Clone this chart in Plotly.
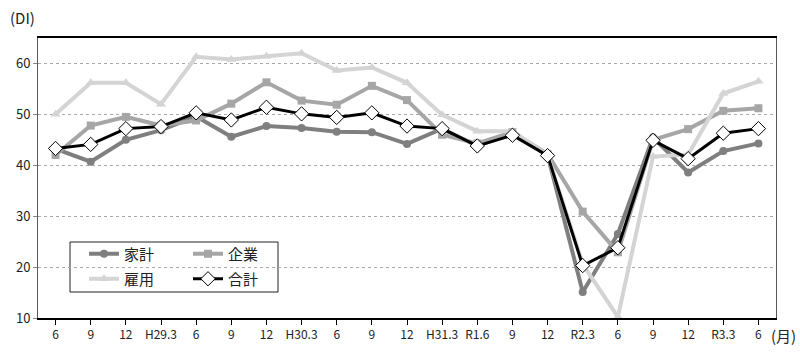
import plotly.graph_objects as go

categories = ["6", "9", "12", "H29.3", "6", "9", "12", "H30.3", "6", "9", "12",
              "H31.3", "R1.6", "9", "12", "R2.3", "6", "9", "12", "R3.3", "6"]
kakei = [43.2, 40.7, 45.0, 46.9, 49.6, 45.6, 47.7, 47.3, 46.6, 46.5, 44.2,
         47.2, 43.8, 46.3, 42.0, 15.1, 26.5, 45.5, 38.6, 42.8, 44.3]
kigyo = [42.0, 47.8, 49.5, 47.8, 48.8, 52.1, 56.3, 52.7, 51.9, 55.6, 52.8,
         46.0, 44.3, 46.5, 42.2, 30.9, 22.9, 45.0, 47.1, 50.7, 51.2]
koyo = [50.0, 56.2, 56.2, 52.0, 61.3, 60.8, 61.4, 62.0, 58.6, 59.2, 56.2,
        49.9, 46.7, 46.7, 42.0, 20.6, 10.2, 41.7, 42.1, 54.1, 56.5]
gokei = [43.3, 44.1, 47.2, 47.6, 50.3, 48.9, 51.4, 50.1, 49.4, 50.3, 47.7,
         47.2, 43.8, 45.9, 41.9, 20.3, 23.8, 44.9, 41.3, 46.3, 47.2]
names = ["家計", "企業", "雇用", "合計"]

x = list(range(len(categories)))
FONT = "Noto Sans CJK JP"

fig = go.Figure()
specs = [
    (kakei, names[0], "#7f7f7f", dict(symbol="circle", size=8, color="#7f7f7f"), 4, "legend"),
    (kigyo, names[1], "#a6a6a6", dict(symbol="square", size=8, color="#a6a6a6"), 4, "legend2"),
    (koyo, names[2], "#d4d4d4", dict(symbol="triangle-up", size=9, color="#d4d4d4"), 4, "legend3"),
    (gokei, names[3], "#000000", dict(symbol="diamond", size=11, color="white",
                                      line=dict(color="#000000", width=1)), 3, "legend4"),
]
for vals, nm, col, mk, w, lg in specs:
    fig.add_trace(go.Scatter(x=x, y=vals, name=nm, mode="lines+markers",
                             line=dict(color=col, width=w), marker=mk, legend=lg))

L, R, T, B = 38, 24, 38, 35
PW, PH = 800 - L - R, 353 - T - B

def px2x(px):
    return (px - L) / PW

def py2y(py):
    return (353 - B - py) / PH

leg_common = dict(bgcolor="rgba(0,0,0,0)", borderwidth=0, font=dict(family=FONT, size=15, color="#222"),
                  xanchor="left", yanchor="middle", itemwidth=30, tracegroupgap=0)
pos = {"legend": (84, 254), "legend2": (188, 254), "legend3": (84, 279), "legend4": (188, 279)}
legs = {}
for k, (px, py) in pos.items():
    legs[k] = dict(leg_common, x=px2x(px), y=py2y(py))

fig.update_layout(
    width=800, height=353,
    margin=dict(l=L, r=R, t=T, b=B),
    paper_bgcolor="white", plot_bgcolor="white",
    font=dict(family=FONT, size=12, color="#222"),
    showlegend=True,
    **legs,
    xaxis=dict(range=[-0.5, len(categories) - 0.5], tickmode="array", tickvals=x, ticktext=categories,
               showgrid=False, showline=True, linecolor="#000", linewidth=1.5, mirror=True,
               ticks="outside", ticklen=5, tickcolor="#000", zeroline=False, tickson="boundaries",
               tickfont=dict(family=FONT, size=12, color="#222")),
    yaxis=dict(range=[10, 65], tickvals=[10, 20, 30, 40, 50, 60], showgrid=True,
               gridcolor="#a8a8a8", griddash="dot", gridwidth=1,
               showline=True, linecolor="#595959", linewidth=1, mirror=True,
               ticks="outside", ticklen=4, tickcolor="#888", zeroline=False,
               tickfont=dict(family=FONT, size=13, color="#222")),
    shapes=[dict(type="rect", xref="paper", yref="paper",
                 x0=px2x(70), x1=px2x(278), y0=py2y(292), y1=py2y(242),
                 line=dict(color="#222", width=1), fillcolor="white", layer="below")],
    annotations=[
        dict(text="(DI)", xref="paper", yref="paper", x=px2x(22), y=py2y(17),
             xanchor="center", yanchor="middle",
             showarrow=False, font=dict(family=FONT, size=15, color="#222")),
        dict(text="(月)", xref="paper", yref="paper", x=px2x(798), y=py2y(335),
             xanchor="right", yanchor="middle",
             showarrow=False, font=dict(family=FONT, size=15, color="#222")),
    ],
)

fig.write_html("out.html")
